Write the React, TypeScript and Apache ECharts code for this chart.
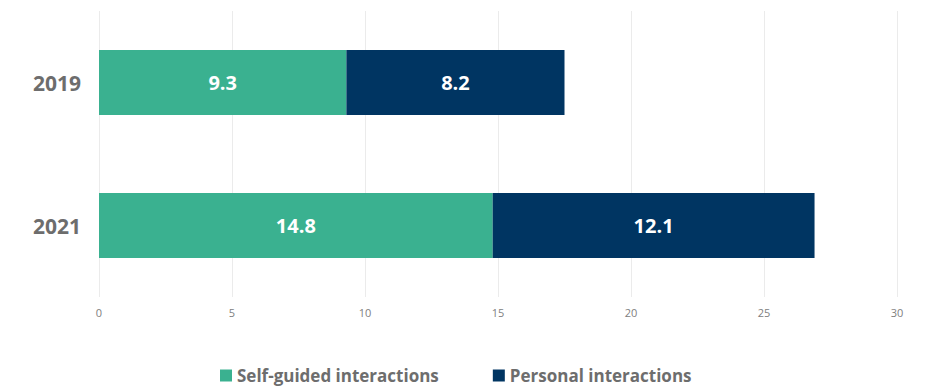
import React, { useEffect, useRef } from "react";
import * as echarts from "echarts";

const categories = ["2019", "2021"];
const selfGuided = [9.3, 14.8];
const personal = [8.2, 12.1];
const seriesNames = ["Self-guided interactions", "Personal interactions"];

export default function App() {
  const ref = useRef<HTMLDivElement>(null);
  useEffect(() => {
    if (!ref.current) return;
    const chart = echarts.init(ref.current, null, { renderer: "svg" });
    const labelStyle = {
      show: true,
      position: "inside" as const,
      color: "#ffffff",
      fontFamily: "Open Sans",
      fontWeight: "bold" as const,
      fontSize: 20,
    };
    chart.setOption({
      animation: false,
      textStyle: { fontFamily: "Open Sans" },
      grid: { left: 91, right: 31, top: 3, bottom: 95, containLabel: false },
      legend: {
        top: 354,
        left: 207,
        itemWidth: 12,
        itemHeight: 12,
        itemGap: 54,
        icon: "rect",
        textStyle: { color: "#6d6d6d", fontSize: 17, fontWeight: "bold", fontFamily: "Open Sans" },
        data: seriesNames,
      },
      xAxis: {
        type: "value",
        min: 0,
        max: 30,
        interval: 5,
        axisLine: { show: false },
        axisTick: { show: false },
        splitLine: { show: true, lineStyle: { color: "#ebebeb", width: 1 } },
        axisLabel: { color: "#808080", fontSize: 11, margin: 10 },
      },
      yAxis: {
        type: "category",
        inverse: true,
        data: categories,
        axisLine: { show: false },
        axisTick: { show: false },
        axisLabel: { color: "#6d6d6d", fontSize: 21, fontWeight: "bold", margin: 18 },
      },
      series: [
        {
          name: seriesNames[0],
          type: "bar",
          stack: "total",
          data: selfGuided,
          barWidth: 65,
          itemStyle: { color: "#3ab190" },
          label: labelStyle,
        },
        {
          name: seriesNames[1],
          type: "bar",
          stack: "total",
          data: personal,
          barWidth: 65,
          itemStyle: { color: "#003562" },
          label: labelStyle,
        },
      ],
    });
    return () => chart.dispose();
  }, []);
  return <div ref={ref} style={{ width: 920, height: 384 }} />;
}
